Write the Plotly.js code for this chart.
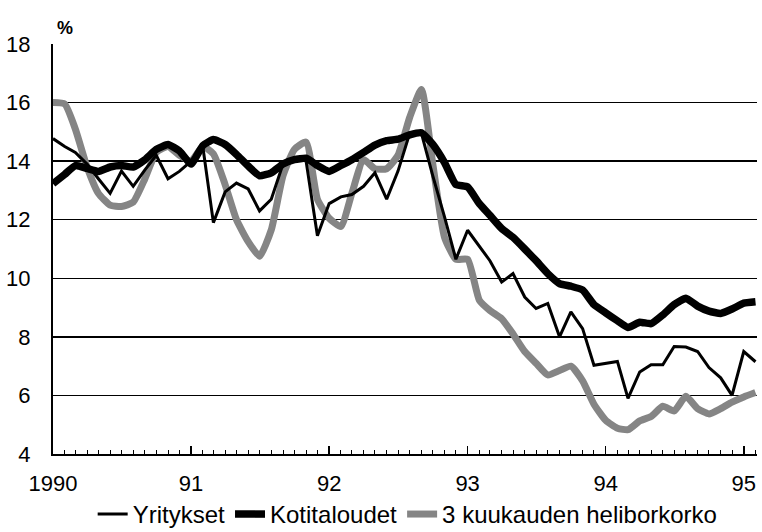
<!DOCTYPE html>
<html>
<head>
<meta charset="utf-8">
<script src="https://cdn.plot.ly/plotly-3.0.1.min.js"></script>
<style>html,body{margin:0;padding:0;background:#fff;}#chart{width:762px;height:532px;}</style>
</head>
<body>
<div id="chart"></div>
<script>
// Monthly observations, Jan 1990 - Feb 1995
const startYear = 1990;
const nMonths = 62;
const months = [];
for (let i = 0; i < nMonths; i++) {
  const y = startYear + Math.floor(i / 12);
  const m = (i % 12) + 1;
  months.push(y + '-' + String(m).padStart(2, '0') + '-01');
}

const yritykset = [
  14.77, 14.5, 14.3, 13.9, 13.4, 12.9, 13.66, 13.14, 13.7, 14.2, 13.4, 13.65,
  14.0, 14.5, 11.9, 12.95, 13.25, 13.05, 12.3, 12.7, 13.9, 14.1, 14.0, 11.45,
  12.55, 12.78, 12.86, 13.14, 13.6, 12.7, 13.66, 14.95, 14.95, 13.5, 12.1, 10.65,
  11.64, 11.1, 10.6, 9.87, 10.16, 9.36, 8.97, 9.14, 8.0, 8.85, 8.28, 7.03,
  7.1, 7.16, 5.9, 6.8, 7.05, 7.05, 7.67, 7.65, 7.5, 6.95, 6.6, 6.0,
  7.5, 7.15
];
const kotitaloudet = [
  13.23, 13.55, 13.85, 13.75, 13.65, 13.8, 13.85, 13.8, 14.05, 14.4, 14.57, 14.35,
  13.9, 14.53, 14.74, 14.57, 14.23, 13.83, 13.5, 13.6, 13.9, 14.05, 14.1, 13.85,
  13.65, 13.85, 14.05, 14.3, 14.55, 14.7, 14.75, 14.9, 14.97, 14.57, 13.95, 13.2,
  13.12, 12.55, 12.15, 11.7, 11.4, 11.0, 10.6, 10.16, 9.82, 9.73, 9.6, 9.1,
  8.82, 8.55, 8.32, 8.5, 8.45, 8.75, 9.1, 9.32, 9.05, 8.88, 8.8, 8.95,
  9.15, 9.2
];
const helibor = [
  16.0, 15.95, 15.1, 13.8, 12.9, 12.5, 12.45, 12.6, 13.4, 14.3, 14.5, 14.2,
  14.0, 14.5, 14.25, 13.2, 12.0, 11.25, 10.75, 11.65, 13.5, 14.4, 14.65, 12.7,
  12.05, 11.77, 12.9, 14.05, 13.74, 13.74, 14.2, 15.5, 16.45, 13.9, 11.4, 10.65,
  10.65, 9.25, 8.9, 8.62, 8.1, 7.5, 7.1, 6.7, 6.85, 7.0, 6.5, 5.7,
  5.15, 4.88, 4.83, 5.13, 5.28, 5.63, 5.47, 5.97, 5.55, 5.37, 5.55, 5.77,
  5.95, 6.1
];

const seriesNames = ['Yritykset', 'Kotitaloudet', '3 kuukauden heliborkorko'];
const yearTicks = ['1990-01-01', '1991-01-01', '1992-01-01', '1993-01-01', '1994-01-01', '1995-01-01'];
const yearLabels = ['1990', '91', '92', '93', '94', '95'];
const yTicks = [4, 6, 8, 10, 12, 14, 16, 18];

const FONT = 'Liberation Sans, Arial, Helvetica, sans-serif';

const traces = [
  {
    x: months, y: helibor, name: seriesNames[2], type: 'scatter', mode: 'lines',
    line: {color: '#858585', width: 7, shape: 'spline', smoothing: 0.5},
    legendrank: 3
  },
  {
    x: months, y: kotitaloudet, name: seriesNames[1], type: 'scatter', mode: 'lines',
    line: {color: '#000000', width: 7.5, shape: 'spline', smoothing: 0.4},
    legendrank: 2
  },
  {
    x: months, y: yritykset, name: seriesNames[0], type: 'scatter', mode: 'lines',
    line: {color: '#000000', width: 3},
    legendrank: 1
  }
];

const layout = {
  width: 762, height: 532,
  margin: {l: 53, r: 5, t: 44, b: 78, autoexpand: false},
  paper_bgcolor: '#ffffff', plot_bgcolor: '#ffffff',
  font: {family: FONT, color: '#000', size: 21},
  showlegend: true,
  legend: {
    orientation: 'h', xref: 'container', yref: 'container',
    x: 0.535, xanchor: 'center', y: 0.033, yanchor: 'middle',
    font: {family: FONT, size: 24, color: '#000'},
    itemwidth: 30, tracegroupgap: 0, bgcolor: 'rgba(0,0,0,0)'
  },
  xaxis: {
    type: 'date',
    range: ['1990-01-01', '1995-02-05'],
    tickmode: 'array', tickvals: yearTicks, ticktext: yearLabels,
    ticks: 'inside', ticklen: 8, tickwidth: 1.5, tickcolor: '#000',
    minor: {dtick: 'M1', ticks: 'inside', ticklen: 4, tickwidth: 1, tickcolor: '#000', showgrid: false},
    showgrid: false, zeroline: false,
    showline: true, linecolor: '#000', linewidth: 2,
    tickfont: {family: FONT, size: 22, color: '#000'},
    ticklabelstandoff: 9
  },
  yaxis: {
    range: [4, 18],
    tickmode: 'array', tickvals: yTicks,
    ticks: '', showgrid: true, gridcolor: '#000', gridwidth: 1.5,
    zeroline: false,
    showline: true, linecolor: '#000', linewidth: 2,
    tickfont: {family: FONT, size: 22, color: '#000'},
    ticklabelstandoff: 16
  },
  annotations: [
    {
      text: '<b>%</b>', xref: 'paper', yref: 'paper', x: 0.0, y: 1.0,
      xanchor: 'left', yanchor: 'bottom', xshift: 2, yshift: 4,
      showarrow: false, font: {family: FONT, size: 18, color: '#000'}
    }
  ]
};

Plotly.newPlot('chart', traces, layout, {displayModeBar: false, staticPlot: true});
</script>
</body>
</html>
